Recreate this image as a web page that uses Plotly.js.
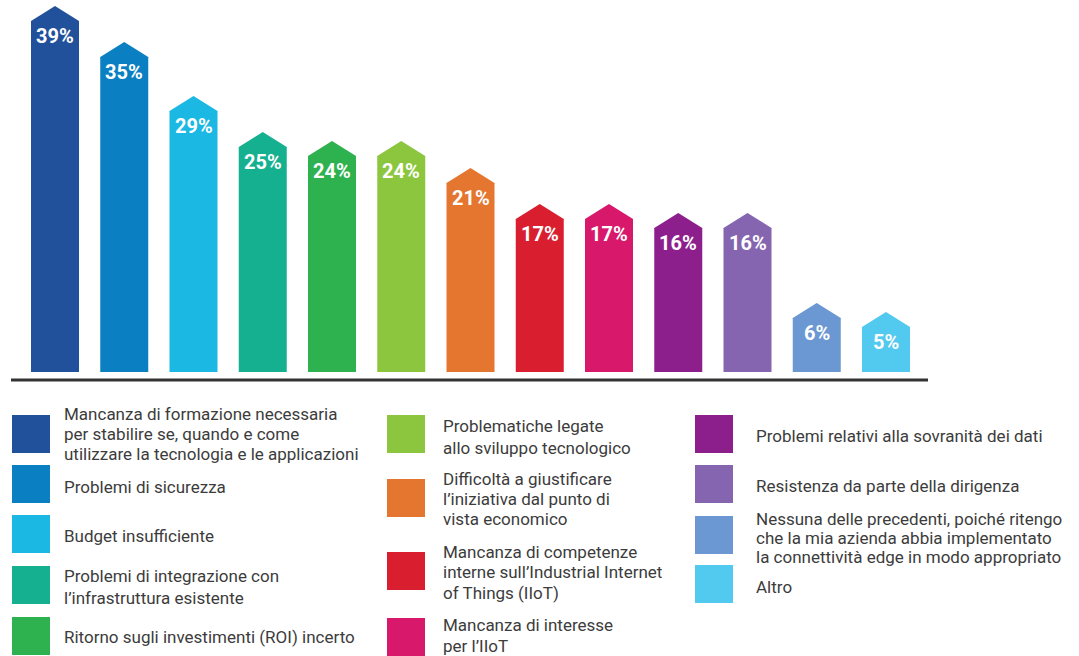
<!DOCTYPE html>
<html>
<head>
<meta charset="utf-8">
<script src="https://cdn.plot.ly/plotly-3.0.1.min.js"></script>
<style>
html,body{margin:0;padding:0;background:#fff;}
#chart{width:1079px;height:656px;}
</style>
</head>
<body>
<div id="chart"></div>
<script>
// ---- data ----
const categories = [
  "Mancanza di formazione necessaria<br>per stabilire se, quando e come<br>utilizzare la tecnologia e le applicazioni",
  "Problemi di sicurezza",
  "Budget insufficiente",
  "Problemi di integrazione con<br>l’infrastruttura esistente",
  "Ritorno sugli investimenti (ROI) incerto",
  "Problematiche legate<br>allo sviluppo tecnologico",
  "Difficoltà a giustificare<br>l’iniziativa dal punto di<br>vista economico",
  "Mancanza di competenze<br>interne sull’Industrial Internet<br>of Things (IIoT)",
  "Mancanza di interesse<br>per l’IIoT",
  "Problemi relativi alla sovranità dei dati",
  "Resistenza da parte della dirigenza",
  "Nessuna delle precedenti, poiché ritengo<br>che la mia azienda abbia implementato<br>la connettività edge in modo appropriato",
  "Altro"
];
const values = [39, 35, 29, 25, 24, 24, 21, 17, 17, 16, 16, 6, 5];
const labels = values.map(v => v + "%");
const colors = ["#22519c", "#0a80c2", "#1ab8e2", "#15b08f", "#2eb24f", "#8cc63f",
                "#e5762f", "#d91f2f", "#d8186b", "#8d1f8d", "#8565b0", "#6b97d2", "#52c9ee"];

// ---- layout helpers (pixel -> paper, margins are 0) ----
const W = 1079, H = 656;
const px = x => x / W;
const py = y => 1 - y / H;

const xs = values.map((_, i) => i);
const barWidth = 0.693;
const tip = 1.667;

const shapes = [];
values.forEach((v, i) => {
  const x0 = i - barWidth / 2, x1 = i + barWidth / 2;
  shapes.push({
    type: "path", xref: "x", yref: "y", layer: "above",
    path: `M ${x0},${v - 0.05} L ${x0},${v} L ${i},${v + tip} L ${x1},${v} L ${x1},${v - 0.05} Z`,
    fillcolor: colors[i], line: {width: 0}
  });
});
shapes.push({type: "line", xref: "paper", yref: "paper",
  x0: px(11), x1: px(928), y0: py(380), y1: py(380),
  line: {color: "#333333", width: 3}});

const legCols = [0,0,0,0,0,1,1,1,1,2,2,2,2];
const legCenters = [433, 486, 535, 586, 636, 436, 498, 571, 634, 435, 485, 537, 586];
const lineGap = [20, 20, 20, 22, 20, 22, 20, 20.5, 21, 20, 20, 19, 20];
const sqCenters = [434, 484, 534, 585, 636, 434, 498, 571, 637, 434, 484, 535, 584];
const sqX = [12, 387, 695];
const txX = [62, 441, 754];
const sq = 38;

const annotations = [];
values.forEach((v, i) => {
  annotations.push({
    x: i, y: v, xref: "x", yref: "y", text: "<b>" + labels[i] + "</b>",
    showarrow: false, yanchor: "middle", xanchor: "center", yshift: -15,
    font: {family: "Roboto, sans-serif", size: 20, color: "#ffffff"}
  });
});
categories.forEach((c, i) => {
  const col = legCols[i];
  shapes.push({type: "rect", xref: "paper", yref: "paper",
    x0: px(sqX[col]), x1: px(sqX[col] + sq), y0: py(sqCenters[i] - sq / 2), y1: py(sqCenters[i] + sq / 2),
    fillcolor: colors[i], line: {width: 0}});
  const lines = c.split("<br>");
  lines.forEach((ln, k) => {
    const cy = legCenters[i] + (k - (lines.length - 1) / 2) * lineGap[i];
    annotations.push({
      x: px(txX[col]), y: py(cy + 1), xref: "paper", yref: "paper",
      text: ln, showarrow: false, xanchor: "left", yanchor: "middle", align: "left",
      font: {family: "Roboto, sans-serif", size: 17, color: "#3c3c3c"}
    });
  });
});

const trace = {
  type: "bar", x: xs, y: values, width: barWidth,
  marker: {color: colors, line: {width: 0}},
  hoverinfo: "skip", cliponaxis: false
};

const layout = {
  width: W, height: H,
  margin: {l: 0, r: 0, t: 0, b: 0},
  paper_bgcolor: "#ffffff", plot_bgcolor: "rgba(0,0,0,0)",
  showlegend: false,
  xaxis: {range: [-55 / 69.25, (W - 55) / 69.25], domain: [0, 1], visible: false, fixedrange: true},
  yaxis: {range: [0, 372 / 9], domain: [1 - 372 / H, 1], visible: false, fixedrange: true},
  shapes: shapes,
  annotations: annotations
};

Plotly.newPlot("chart", [trace], layout, {staticPlot: true, displayModeBar: false});
</script>
</body>
</html>
